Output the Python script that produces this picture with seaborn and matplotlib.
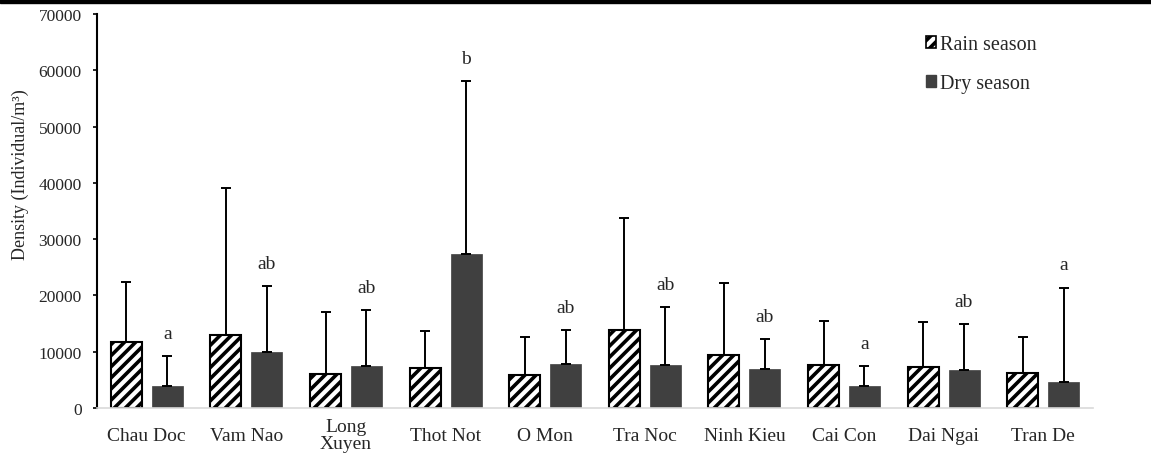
import pandas as pd
import seaborn as sns
import matplotlib.pyplot as plt
import numpy as np
from matplotlib.patches import Patch

# Sites and mean density (individual/m3) per season
sites = ['Chau Doc', 'Vam Nao', 'Long\nXuyen', 'Thot Not', 'O Mon',
         'Tra Noc', 'Ninh Kieu', 'Cai Con', 'Dai Ngai', 'Tran De']
seasons = ['Rain season', 'Dry season']
rain_mean = [11700, 13000, 6100, 7100, 5800, 13900, 9350, 7650, 7200, 6300]
dry_mean = [3900, 9900, 7400, 27350, 7900, 7600, 6900, 3900, 6800, 4700]
# standard deviations (upper error bars)
rain_sd = [10600, 26000, 11000, 6600, 6900, 19850, 12850, 7750, 8100, 6400]
dry_sd = [5300, 11800, 10000, 30750, 6000, 10300, 5400, 3600, 8100, 16700]
# significance letters for the dry season
dry_letters = ['a', 'ab', 'ab', 'b', 'ab', 'ab', 'ab', 'a', 'ab', 'a']

df = pd.DataFrame({
    'site': sites * 2,
    'season': [seasons[0]] * len(sites) + [seasons[1]] * len(sites),
    'density': rain_mean + dry_mean,
})

sns.set_theme(style='white')
plt.rcParams['font.family'] = ['Liberation Serif', 'DejaVu Serif']
plt.rcParams['hatch.linewidth'] = 2.6
plt.rcParams['hatch.color'] = 'black'

fig = plt.figure(figsize=(11.51, 4.56), dpi=100)
ax = fig.add_axes([97 / 1151, 1 - 409 / 456, 996 / 1151, 394 / 456])

sns.barplot(data=df, x='site', y='density', hue='season', ax=ax,
            palette=['white', '#404040'], width=0.82, gap=0.24,
            errorbar=None, legend=False)

# hatch the rain season bars, outline them in black
rain_bars = ax.containers[0]
dry_bars = ax.containers[1]
for bar in rain_bars:
    bar.set_hatch('///')
    bar.set_edgecolor('black')
    bar.set_linewidth(1.5)
for bar in dry_bars:
    bar.set_edgecolor('#404040')
    bar.set_linewidth(0.5)

# upper-only error bars
for bars, sd in [(rain_bars, rain_sd), (dry_bars, dry_sd)]:
    xs = [b.get_x() + b.get_width() / 2 for b in bars]
    hs = [b.get_height() for b in bars]
    ax.errorbar(xs, hs, yerr=[np.zeros(len(sd)), sd], fmt='none',
                ecolor='black', elinewidth=1.4, capsize=3.3, capthick=1.4,
                zorder=1)

# letters above dry season error bars
for b, sd, letter in zip(dry_bars, dry_sd, dry_letters):
    x = b.get_x() + b.get_width() / 2
    ax.annotate(letter, (x, b.get_height() + sd), xytext=(0, 13),
                textcoords='offset points', ha='center', va='baseline',
                fontsize=14)

ax.set_ylim(0, 70000)
ax.set_xlim(-0.5, len(sites) - 0.5)
ax.set_yticks(range(0, 70001, 10000))
ax.set_xlabel('')
ax.set_ylabel('Density (Individual/m³)', fontsize=13)
ax.yaxis.set_label_coords(-(97 - 20) / 996, (409 - 175) / 394)
ax.yaxis.label.set_va('center')

for side in ['top', 'right']:
    ax.spines[side].set_visible(False)
ax.spines['left'].set_color('black')
ax.spines['left'].set_linewidth(1.5)
ax.spines['bottom'].set_color('#d9d9d9')
ax.spines['bottom'].set_linewidth(1.2)

ax.tick_params(axis='y', left=True, length=3, width=1.2, color='black',
               labelsize=12.5, pad=8)
ax.tick_params(axis='x', bottom=False, length=0, labelsize=14, pad=19.5)
for lbl in ax.get_xticklabels():
    lbl.set_va('center')
    lbl.set_linespacing(1.0)

# legend
handles = [Patch(facecolor='white', edgecolor='black', hatch='///', linewidth=1.2),
           Patch(facecolor='#404040', edgecolor='#404040')]
fig.legend(handles, seasons, loc='upper left',
           bbox_to_anchor=(926 / 1151, 1 - 36 / 456), frameon=False,
           fontsize=14.5, handlelength=0.5, handleheight=0.5,
           handletextpad=0.2, labelspacing=1.0, borderpad=0,
           borderaxespad=0)

# black band along the top edge
fig.add_artist(plt.Rectangle((0, 1 - 4 / 456), 1, 4 / 456,
                             transform=fig.transFigure, color='black'))

fig.savefig('out.png', dpi=100)
